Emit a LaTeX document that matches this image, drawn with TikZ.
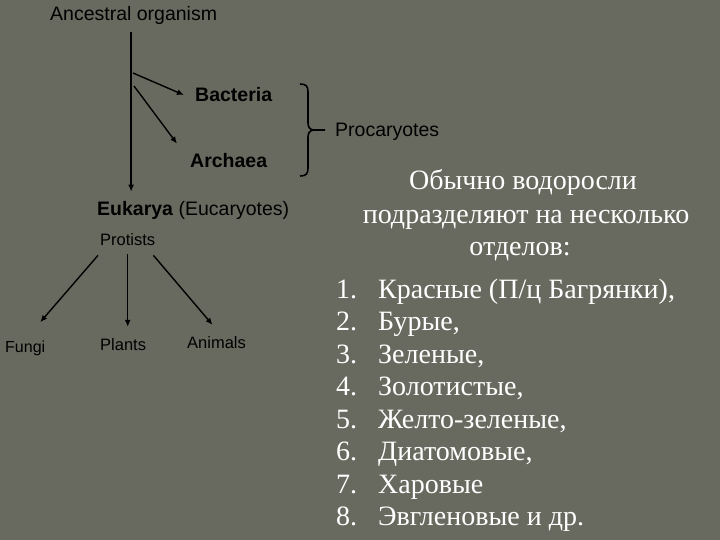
\documentclass[tikz,border=0pt]{standalone}
\usepackage{fontspec}
\setmainfont{Liberation Serif}
\newfontfamily\diagfont{Liberation Sans}
\usepackage{xcolor}
\usepackage{tikz}
\usetikzlibrary{arrows.meta, calc, positioning}

\definecolor{slide}{RGB}{105,106,95}

\begin{document}
\begin{tikzpicture}[x=1pt, y=-1pt, >={Latex[length=7pt,width=6pt]}]

    % Define styles
    \tikzstyle{lbl} = [inner sep=0pt, anchor=base west, text=black, font=\diagfont\fontsize{19.5}{22}\selectfont]
    \tikzstyle{small} = [inner sep=0pt, anchor=base west, text=black, font=\diagfont\fontsize{16.5}{19}\selectfont]
    \tikzstyle{slidetext} = [inner sep=0pt, text=white, font=\fontsize{28}{33}\selectfont]
    \tikzstyle{trunk} = [->, line width=2.5pt]
    \tikzstyle{branch} = [->, line width=1.4pt]

    % Background
    \useasboundingbox[fill=slide] (0,0) rectangle (720,540);

    % Nodes
    \node (anc) [lbl] at (50,21) {Ancestral organism};
    \node (bact) [lbl] at (195,102) {\textbf{Bacteria}};
    \node (arch) [lbl] at (190,168) {\textbf{Archaea}};
    \node (euk) [lbl] at (97,215) {\textbf{Eukarya} (Eucaryotes)};
    \node (procar) [lbl] at (335,137) {Procaryotes};
    \node (prot) [small] at (100,245) {Protists};
    \node (fungi) [small, font=\diagfont\fontsize{16}{19}\selectfont] at (5,352) {Fungi};
    \node (plants) [small] at (100,350) {Plants};
    \node (animals) [small] at (187,348) {Animals};

    \coordinate (fork1) at (133,73);
    \coordinate (fork2) at (134,86);

    % Arrows
    \draw [trunk, shorten <=7pt, shorten >=9pt] ([xshift=-2.5pt]anc.south) -- ([xshift=-2.5pt]anc.south |- euk.north);
    \draw [branch] (fork1) -- ([xshift=-11pt]bact.west);
    \draw [branch] (fork2) -- ([xshift=-13pt,yshift=10pt]arch.north west);
    \draw [branch] ([xshift=-2pt,yshift=-10pt]prot.south west) -- ([xshift=15pt,yshift=18pt]fungi.north);
    \draw [branch, shorten <=9pt, shorten >=11pt] (prot.south) -- (prot.south |- plants.north);
    \draw [branch] ([xshift=-2pt,yshift=-10pt]prot.south east) -- ([xshift=-4pt,yshift=11pt]animals.north);

    % Brace
    \draw [line width=1.6pt] (300,84) .. controls (306,84) and (308,86) .. (308,92) -- (308,123)
        .. controls (308,127) and (310,130) .. (314,130) -- (325,130);
    \draw [line width=1.6pt] (314,130) .. controls (310,130) and (308,133) .. (308,137) -- (308,168)
        .. controls (308,174) and (306,176) .. (300,176);

    % Text
    \node (head1) [slidetext, anchor=base] at (523,190) {Обычно водоросли};
    \node (head2) [slidetext, anchor=base] at (526,223) {подразделяют на несколько};
    \node (head3) [slidetext, anchor=base] at (520,255) {отделов:};
    \foreach \txt [count=\i] in {{Красные (П/ц Багрянки),}, {Бурые,}, {Зеленые,}, {Золотистые,},
        {Желто-зеленые,}, {Диатомовые,}, {Харовые}, {Эвгленовые и др.}} {
        \node (num\i) [slidetext, anchor=base west] at (336,{265.5+32.5*\i}) {\i.};
        \node (item\i) [slidetext, anchor=base west] at (378,{265.5+32.5*\i}) {\txt};
    }

\end{tikzpicture}
\end{document}
